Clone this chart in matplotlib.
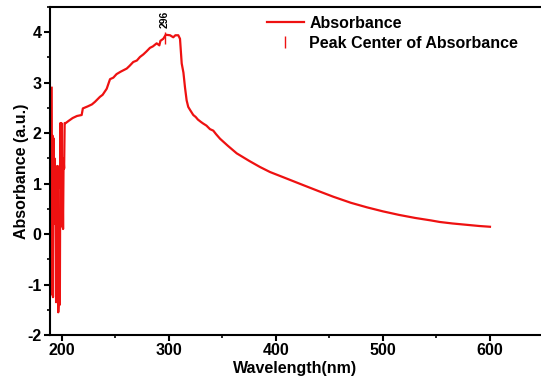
import matplotlib
matplotlib.use("Agg")
import matplotlib.pyplot as plt
from matplotlib.ticker import MultipleLocator

plt.rcParams['font.family'] = ['Liberation Sans', 'DejaVu Sans']
plt.rcParams['font.weight'] = 'bold'
plt.rcParams['axes.unicode_minus'] = False

# UV-Vis spectrum
wavelength = [190.4, 190.8, 191.2, 191.6, 192.0, 192.5, 193.0, 193.5, 194.0, 194.5,
              195.0, 195.5, 196.0, 196.5, 197.0, 197.5, 198.0, 198.5, 199.0, 199.5,
              200.0, 200.5, 201.0, 201.5, 202.0, 202.5, 203.5, 206, 210, 214,
              218.4, 219.5, 224, 228, 230.8, 235.5, 238, 241.8, 244.9, 248,
              251, 255, 260.5, 263, 266.6, 270, 272.9, 276, 279, 282.2,
              285, 288.5, 291, 292, 294.7, 297, 301, 304, 306, 308.7,
              310.3, 311.9, 313.5, 315, 316.5, 318, 320, 322.7, 325, 327,
              330, 332, 335, 338.3, 341.4, 344, 347.7, 355, 363.3, 375,
              385, 394.4, 410, 425.5, 440, 453.6, 470, 485, 500, 515,
              530, 545, 553, 565, 580, 590, 600]
absorbance = [2.9, -1.2, 1.95, -1.25, 1.9, 0.2, 1.5, 0.3, 1.35, -1.35,
              1.3, -1.1, 1.35, -1.55, -1.3, 0.3, -1.4, 2.2, 0.9, 2.2,
              0.15, 1.2, 0.1, 1.5, 1.3, 2.2, 2.2, 2.24, 2.3, 2.34,
              2.36, 2.49, 2.53, 2.57, 2.62, 2.72, 2.76, 2.88, 3.07, 3.1,
              3.17, 3.22, 3.28, 3.33, 3.41, 3.44, 3.51, 3.56, 3.62, 3.69,
              3.72, 3.78, 3.74, 3.83, 3.87, 3.95, 3.94, 3.9, 3.94, 3.94,
              3.87, 3.38, 3.2, 2.9, 2.65, 2.52, 2.45, 2.36, 2.32, 2.27,
              2.22, 2.19, 2.15, 2.08, 2.05, 1.98, 1.89, 1.75, 1.6, 1.45,
              1.33, 1.23, 1.1, 0.97, 0.85, 0.74, 0.62, 0.53, 0.45, 0.38,
              0.32, 0.27, 0.24, 0.21, 0.18, 0.16, 0.145]

peak_wl = 296
peak_abs = 3.89

fig = plt.figure(figsize=(5.41, 3.83), dpi=100)
ax = fig.add_axes([50 / 541, 1 - 335 / 383, 1 - 50 / 541, 328 / 383])

ax.plot(wavelength, absorbance, color='#ee1111', lw=1.6, label='Absorbance')
ax.plot([peak_wl], [peak_abs], ls='none', marker='|', ms=9, mew=1.0,
        color='#ee1111', label='Peak Center of Absorbance')
ax.text(peak_wl, 4.08, str(peak_wl), rotation=90, ha='center', va='bottom',
        fontsize=7.5, fontweight='bold')

ax.set_xlim(188.8, 647.7)
ax.set_ylim(-2, 4.5)
ax.xaxis.set_major_locator(MultipleLocator(100))
ax.xaxis.set_minor_locator(MultipleLocator(50))
ax.yaxis.set_major_locator(MultipleLocator(1))
ax.yaxis.set_minor_locator(MultipleLocator(0.5))

ax.spines['right'].set_visible(False)
for s in ['left', 'bottom', 'top']:
    ax.spines[s].set_linewidth(1.5)
ax.tick_params(axis='both', which='major', direction='out', length=4, width=1.5,
               labelsize=11.5, pad=2)
ax.tick_params(axis='both', which='minor', direction='out', length=2.5, width=1.2)
for lab in ax.get_xticklabels() + ax.get_yticklabels():
    lab.set_fontweight('bold')

ax.set_xlabel('Wavelength(nm)', fontsize=11.5, fontweight='bold', labelpad=2)
ax.set_ylabel('Absorbance (a.u.)', fontsize=11.5, fontweight='bold', labelpad=-1)

ax.legend(loc='upper left', bbox_to_anchor=(267 / 541, 1 - 16 / 383),
          bbox_transform=fig.transFigure, frameon=False,
          handlelength=2.3, handletextpad=0.35, borderpad=0, borderaxespad=0,
          labelspacing=0.3, prop={'weight': 'bold', 'size': 11.5})

fig.savefig('out.png', dpi=100)
